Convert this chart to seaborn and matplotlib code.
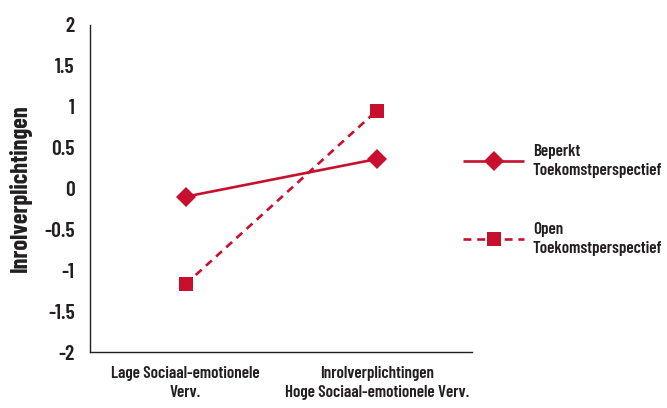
import pandas as pd
import matplotlib
matplotlib.use("Agg")
import matplotlib.pyplot as plt
import seaborn as sns

# data
categories = ["Lage Sociaal-emotionele\nVerv.", "Inrolverplichtingen\nHoge Sociaal-emotionele Verv."]
beperkt = [-0.10, 0.36]
open_tp = [-1.17, 0.95]
series_names = ["Beperkt\nToekomstperspectief", "Open\nToekomstperspectief"]
y_ticks = [-2, -1.5, -1, -0.5, 0, 0.5, 1, 1.5, 2]

df = pd.DataFrame({
    "x": [0, 1, 0, 1],
    "y": beperkt + open_tp,
    "groep": [series_names[0]] * 2 + [series_names[1]] * 2,
})

sns.set_style("white")
plt.rcParams["font.family"] = ["Barlow Condensed", "DejaVu Sans"]
plt.rcParams["font.weight"] = 600
txt = "#231f20"
red = "#c8102e"

fig = plt.figure(figsize=(6.67, 4.08), dpi=100)
ax = fig.add_axes([0.135, 0.137, 0.573, 0.802])

sns.lineplot(data=df, x="x", y="y", hue="groep", style="groep",
             palette=[red, red], markers=["D", "s"], dashes=[(1, 0), (3, 2.2)],
             markersize=10, linewidth=1.9, markeredgewidth=0, ax=ax, legend=True)

ax.set_xlim(-0.5, 1.5)
ax.set_ylim(-2, 2)
ax.set_yticks(y_ticks)
ax.set_yticklabels([f"{v:g}" for v in y_ticks])
ax.set_xticks([-0.5, 0.5, 1.5])
ax.set_xticklabels([])
ax.set_xticks([0, 1], minor=True)
ax.set_xticklabels(categories, minor=True)
ax.tick_params(axis="x", which="minor", length=0, pad=10, labelsize=12.3, colors=txt)
ax.tick_params(axis="x", which="major", length=6, width=1, direction="out", color=txt)
ax.tick_params(axis="y", length=6, width=1, direction="out", color=txt,
               labelsize=15.5, labelcolor=txt, pad=5)
for t in ax.get_xticklabels(minor=True):
    t.set_multialignment("center")
    t.set_linespacing(1.3)

for s in ["top", "right"]:
    ax.spines[s].set_visible(False)
for s in ["left", "bottom"]:
    ax.spines[s].set_color(txt)
    ax.spines[s].set_linewidth(1)

ax.set_xlabel("")
ax.set_ylabel("Inrolverplichtingen", fontsize=17.5, fontweight="bold", color=txt, labelpad=9)

h, l = ax.get_legend_handles_labels()
ax.get_legend().remove()
leg = fig.legend(h, l, loc="upper left", bbox_to_anchor=(0.694, 0.648), frameon=False,
                 fontsize=12.3, labelcolor=txt, handlelength=3.6, handletextpad=0.5,
                 labelspacing=2.6, borderpad=0, borderaxespad=0)
for t in leg.get_texts():
    t.set_linespacing(1.35)

fig.savefig("out.png", dpi=100)
